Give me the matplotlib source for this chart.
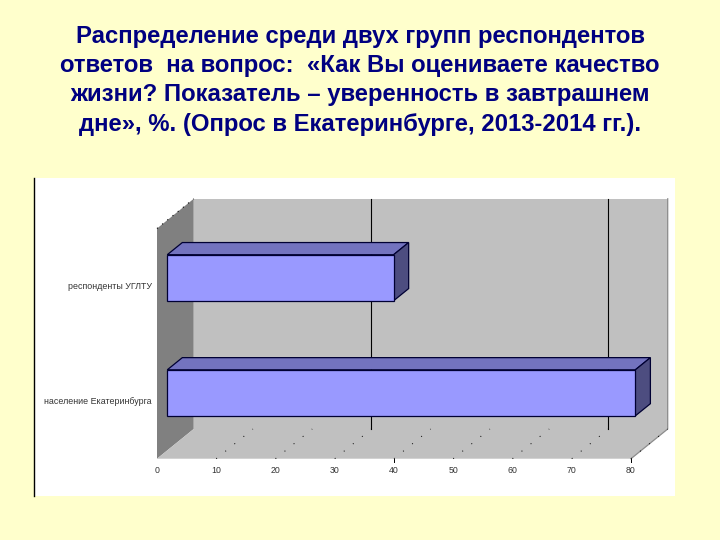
import matplotlib
matplotlib.use("Agg")
import matplotlib.pyplot as plt
from matplotlib.patches import Polygon, Rectangle

# values
categories = ["население Екатеринбурга", "респонденты УГЛТУ"]
values = [79, 38.2]
ticks = [0, 10, 20, 30, 40, 50, 60, 70, 80]
strong_grid = [30, 70]
marked_ticks = [40, 80]
title_lines = [
    "Распределение среди двух групп респондентов",
    "ответов  на вопрос:  «Как Вы оцениваете качество",
    "жизни? Показатель – уверенность в завтрашнем",
    "дне», %. (Опрос в Екатеринбурге, 2013-2014 гг.).",
]

W, H = 720, 540
plt.rcParams["font.family"] = ["Liberation Sans", "DejaVu Sans"]

fig = plt.figure(figsize=(W / 100, H / 100), dpi=100, facecolor="#FFFFCC")

# white chart area
bg = fig.add_axes([0, 0, 1, 1])
bg.set_xlim(0, W)
bg.set_ylim(H, 0)
bg.axis("off")
bg.add_patch(Rectangle((35, 178), 640, 318, fc="white", ec="none"))
bg.plot([34.2, 34.2], [178, 496], color="black", lw=1.0)

for i, line in enumerate(title_lines):
    bg.text(360, 36 + i * 29.4, line, ha="center", va="center", fontsize=17.2,
            color="#000080", fontweight="bold")

# front plane of the 3D box, x in data units, y in category units
left, right = 157, 631
top, bottom = 228.5, 458.7
ax = fig.add_axes([left / W, 1 - bottom / H, (right - left) / W, (bottom - top) / H])
ax.set_xlim(0, 80)
ax.set_ylim(0, 2)
ax.axis("off")

ux = (right - left) / 80
uy = (bottom - top) / 2
DX = 36.7 / ux   # box depth, in x units
DY = 29.7 / uy   # box depth, in y units


def shift(x, y, d):
    # move a point from the front plane d of the way to the back wall
    return (x + DX * d, y + DY * d)


def poly(points, d_list, **kw):
    xy = [shift(p[0], p[1], d) for p, d in zip(points, d_list)]
    ax.add_patch(Polygon(xy, closed=True, clip_on=False, **kw))


# walls
poly([(0, 0), (80, 0), (80, 2), (0, 2)], [1, 1, 1, 1], fc="#C0C0C0", ec="none")
poly([(0, 0), (0, 0), (0, 2), (0, 2)], [0, 1, 1, 0], fc="#808080", ec="none")
poly([(0, 0), (80, 0), (80, 0), (0, 0)], [0, 0, 1, 1], fc="#C0C0C0", ec="none")

# darker right edge of the box
ax.plot(*zip(shift(80, 2, 1), shift(80, 0, 1), shift(80, 0, 0)),
        color="#8C8C8C", lw=0.9, clip_on=False)

# grid: only two lines survive on the back wall, the rest is scattered dots
for t in ticks[1:]:
    x0, y0 = shift(t, 0, 0)
    x1, y1 = shift(t, 0, 1)
    ax.plot([x0, x1], [y0, y1], color="black", lw=0.7, clip_on=False,
            linestyle=(0, (1, 11)))
for t in strong_grid:
    x0, y0 = shift(t, 0, 1)
    x1, y1 = shift(t, 2, 1)
    ax.plot([x0, x1], [y0, y1], color="black", lw=0.8, clip_on=False, zorder=2)
for t in marked_ticks:
    ax.plot([t, t], [0, -0.03], color="black", lw=0.7, clip_on=False)
# dotted top edge of the side wall
ax.plot(*zip(shift(0, 2, 0), shift(0, 2, 1)), color="black", lw=0.8,
        linestyle=(0, (1, 5)), clip_on=False)

# bars
bar_h = 0.4
d0, d1 = 0.28, 0.69
edge = "#000033"
for i, (cat, val) in enumerate(zip(categories, values)):
    lo, hi = i + 0.5 - bar_h / 2, i + 0.5 + bar_h / 2
    poly([(0, hi), (val, hi), (val, hi), (0, hi)], [d0, d0, d1, d1],
         fc="#7373BF", ec=edge, lw=0.9, zorder=3)
    poly([(val, lo), (val, hi), (val, hi), (val, lo)], [d0, d0, d1, d1],
         fc="#4D4D80", ec=edge, lw=0.9, zorder=3)
    poly([(0, lo), (val, lo), (val, hi), (0, hi)], [d0, d0, d0, d0],
         fc="#9999FF", ec=edge, lw=0.9, zorder=4)
    ax.text(-0.9, i + 0.5, cat, ha="right", va="center", fontsize=6.4,
            color="#333333", clip_on=False)

# x tick labels
for t in ticks:
    ax.text(t, -0.105, str(t), ha="center", va="center", fontsize=6.3,
            color="#333333", clip_on=False)

fig.savefig("out.png", dpi=100, facecolor=fig.get_facecolor())
